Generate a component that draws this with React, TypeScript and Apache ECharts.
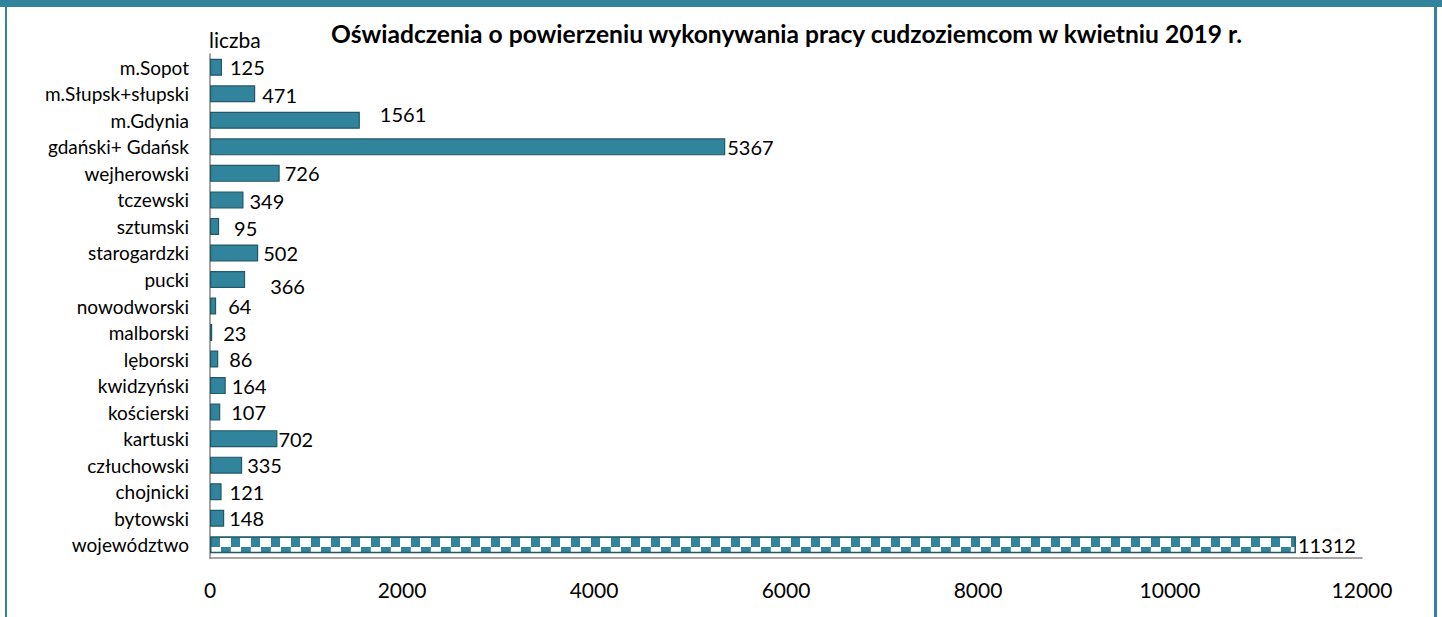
import React, { useEffect, useRef } from "react";
import * as echarts from "echarts";

const categories = [
  "m.Sopot",
  "m.Słupsk+słupski",
  "m.Gdynia",
  "gdański+ Gdańsk",
  "wejherowski",
  "tczewski",
  "sztumski",
  "starogardzki",
  "pucki",
  "nowodworski",
  "malborski",
  "lęborski",
  "kwidzyński",
  "kościerski",
  "kartuski",
  "człuchowski",
  "chojnicki",
  "bytowski",
  "województwo",
];
const values = [125, 471, 1561, 5367, 726, 349, 95, 502, 366, 64, 23, 86, 164, 107, 702, 335, 121, 148, 11312];
const xTicks = { min: 0, max: 12000, interval: 2000 };
const titleText = "Oświadczenia o powierzeniu wykonywania pracy cudzoziemcom w kwietniu 2019 r.";
const axisName = "liczba";

// label nudges (style only)
const labelNudges: [number, number][] = [
  [8, 0], [7, 1], [20, -6], [2, 0], [5, 0], [6, 1], [15, 2], [5, 0], [25, 7], [12, 0],
  [11, 0], [11, 0], [6, 0], [11, 0], [1, 0], [5, 0], [8, 0], [5, 0], [2, 0],
];

const TEAL = "#31849B";
const DARK = "#215968";
const FONT = "Lato";
const BAR_W = 17;

// tile aligned so that global row g maps to bar-relative row (g - barTop)
function makeTile(barTop: number, barLeft: number) {
  const W = 20;
  const H = BAR_W;
  const c = document.createElement("canvas");
  c.width = W;
  c.height = H;
  const ctx = c.getContext("2d")!;
  const rel = (gx: number, gy: number) => {
    const rx = (((gx - barLeft) % W) + W) % W;
    const ry = (((gy - barTop) % H) + H) % H;
    if (ry >= 2 && ry < 11) return rx >= 1 && rx < 10 ? TEAL : "#ffffff";
    if (ry >= 11 && ry < 16) return rx >= 11 ? TEAL : rx < 1 ? "#5aa0b3" : "#ffffff";
    return TEAL;
  };
  for (let gy = 0; gy < H; gy++) {
    for (let gx = 0; gx < W; gx++) {
      ctx.fillStyle = rel(gx, gy);
      ctx.fillRect(gx, gy, 1, 1);
    }
  }
  return c;
}

export default function App() {
  const ref = useRef<HTMLDivElement>(null);
  useEffect(() => {
    document.body.style.margin = "0";
    const chart = echarts.init(ref.current!, null, { renderer: "svg" });
    const buildData = (tileUrl: string | null) =>
      values.map((v, i) => {
        const isTotal = i === values.length - 1;
        return {
          value: v,
          itemStyle:
            isTotal && tileUrl
              ? {
                  color: {
                    image: tileUrl,
                    repeat: "repeat",
                    imageWidth: 20,
                    imageHeight: BAR_W,
                  },
                  borderColor: DARK,
                  borderWidth: 1.5,
                }
              : undefined,
          label: { offset: labelNudges[i] },
        };
      });
    chart.setOption({
      animation: false,
      backgroundColor: "#ffffff",
      title: {
        text: titleText,
        left: 326,
        top: 16,
        textStyle: { fontFamily: FONT, fontWeight: "bold", fontSize: 24.6, color: "#000" },
      },
      graphic: [
        { type: "rect", shape: { x: 0, y: 0, width: 1442, height: 7 }, style: { fill: TEAL } },
        { type: "rect", shape: { x: 5, y: 0, width: 2, height: 617 }, style: { fill: TEAL } },
        { type: "rect", shape: { x: 1434, y: 0, width: 3, height: 617 }, style: { fill: TEAL } },
        {
          type: "text",
          left: 209,
          top: 29,
          style: { text: axisName, fontFamily: FONT, fontSize: 21, fill: "#000" },
        },
      ],
      grid: { left: 210, right: 80, top: 54, bottom: 59, containLabel: false },
      xAxis: {
        type: "value",
        min: xTicks.min,
        max: xTicks.max,
        interval: xTicks.interval,
        splitLine: { show: false },
        axisLine: { show: true, lineStyle: { color: "#868686", width: 1.5 } },
        axisTick: { show: false },
        axisLabel: {
          fontFamily: FONT,
          fontSize: 21,
          color: "#000",
          margin: 21,
          formatter: (v: number) => String(v),
        },
      },
      yAxis: {
        type: "category",
        data: categories,
        inverse: true,
        axisLine: { show: true, lineStyle: { color: "#868686", width: 1.5 } },
        axisTick: { show: false },
        axisLabel: { fontFamily: FONT, fontSize: 19, color: "#000", margin: 21 },
      },
      series: [
        {
          type: "bar",
          data: buildData(null),
          barWidth: BAR_W,
          itemStyle: { color: TEAL, borderColor: DARK, borderWidth: 1.2 },
          label: {
            show: true,
            position: "right",
            distance: 0,
            fontFamily: FONT,
            fontSize: 20,
            color: "#000",
          },
        },
      ],
    });
    const lastIdx = values.length - 1;
    const p = chart.convertToPixel({ seriesIndex: 0 }, [0, lastIdx]) as number[];
    const barTop = p[1] - BAR_W / 2;
    const tile = makeTile(Math.round(barTop), Math.round(p[0]));
    chart.setOption({ series: [{ data: buildData(tile.toDataURL()) }] });
    return () => chart.dispose();
  }, []);
  return <div ref={ref} style={{ width: 1442, height: 617 }} />;
}
